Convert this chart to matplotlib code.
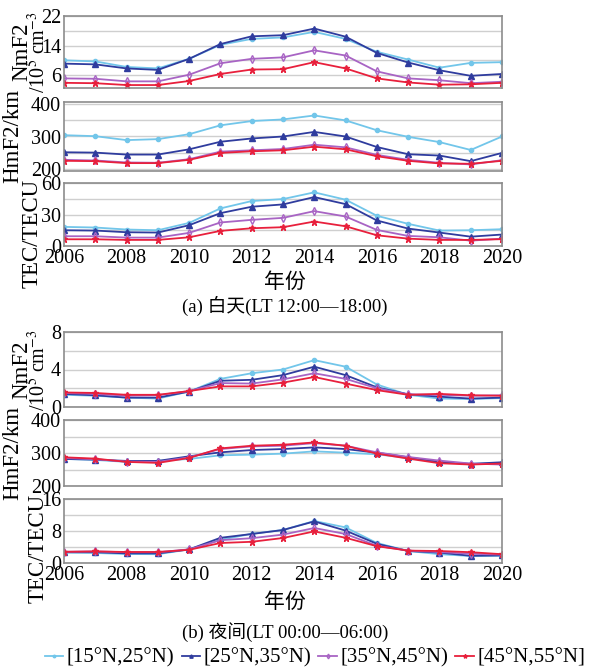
import matplotlib
matplotlib.use("Agg")
import matplotlib.pyplot as plt
import numpy as np

plt.rcParams["font.family"] = ["Liberation Serif", "Noto Sans CJK SC"]
plt.rcParams["mathtext.fontset"] = "stix"

years = list(range(2006, 2021))
bands = ["[15°N,25°N)", "[25°N,35°N)", "[35°N,45°N)", "[45°N,55°N]"]

# daytime (LT 12:00-18:00)
day_nmf2_15 = [10.0, 9.7, 8.2, 7.8, 10.4, 14.2, 15.8, 16.2, 17.7, 15.8, 12.3, 10.2, 8.0, 9.3, 9.5]
day_nmf2_25 = [9.1, 8.9, 7.8, 7.4, 10.4, 14.4, 16.5, 16.8, 18.6, 16.4, 12.0, 9.4, 7.3, 5.8, 6.3]
day_nmf2_35 = [5.1, 5.0, 4.3, 4.3, 6.1, 9.2, 10.4, 10.8, 12.7, 11.3, 7.0, 5.1, 4.6, 3.8, 4.2]
day_nmf2_45 = [3.9, 3.8, 3.3, 3.3, 4.4, 6.3, 7.5, 7.6, 9.5, 7.8, 5.1, 4.0, 3.4, 3.5, 3.9]

day_hmf2_15 = [304, 301, 289, 292, 307, 334, 347, 352, 364, 349, 319, 299, 283, 259, 300]
day_hmf2_25 = [252, 251, 245, 245, 261, 284, 294, 300, 314, 300, 268, 246, 242, 225, 250]
day_hmf2_35 = [229, 227, 221, 220, 231, 254, 258, 262, 275, 267, 244, 229, 220, 215, 228]
day_hmf2_45 = [226, 225, 219, 219, 229, 250, 255, 258, 269, 261, 240, 226, 218, 217, 226]

day_tec_15 = [18.2, 17.6, 15.7, 15.0, 22.0, 35.8, 42.8, 44.7, 51.1, 44.1, 28.8, 21.1, 14.7, 15.0, 16.0]
day_tec_25 = [15.0, 14.7, 13.1, 12.8, 19.8, 31.3, 37.4, 39.6, 46.6, 39.9, 24.3, 16.6, 12.8, 8.9, 10.9]
day_tec_35 = [9.3, 9.3, 8.0, 8.0, 12.5, 22.4, 24.9, 26.8, 33.2, 28.1, 15.3, 9.6, 8.3, 5.1, 7.0]
day_tec_45 = [6.4, 6.4, 5.8, 5.8, 8.3, 14.4, 16.9, 17.9, 23.3, 18.8, 10.2, 7.0, 5.8, 5.8, 6.5]

# nighttime (LT 00:00-06:00)
night_nmf2_15 = [1.3, 1.2, 1.0, 0.9, 1.65, 3.0, 3.6, 4.0, 5.0, 4.3, 2.4, 1.3, 0.9, 0.85, 0.95]
night_nmf2_25 = [1.4, 1.25, 1.0, 1.0, 1.65, 2.8, 2.9, 3.4, 4.3, 3.4, 2.1, 1.35, 1.1, 0.9, 1.0]
night_nmf2_35 = [1.5, 1.4, 1.2, 1.25, 1.7, 2.55, 2.5, 2.95, 3.6, 3.0, 2.0, 1.35, 1.3, 1.2, 1.25]
night_nmf2_45 = [1.55, 1.5, 1.3, 1.3, 1.7, 2.2, 2.2, 2.6, 3.2, 2.5, 1.8, 1.3, 1.4, 1.25, 1.2]

night_hmf2_15 = [282, 279, 273, 276, 282, 293, 295, 298, 305, 301, 296, 285, 272, 267, 270]
night_hmf2_25 = [282, 280, 276, 276, 290, 302, 309, 312, 317, 312, 301, 287, 273, 267, 272]
night_hmf2_35 = [285, 281, 274, 273, 287, 312, 320, 322, 330, 322, 302, 288, 277, 268, 265]
night_hmf2_45 = [287, 283, 273, 270, 285, 314, 322, 325, 332, 322, 298, 283, 269, 265, 268]

night_tec_15 = [2.6, 2.5, 2.25, 2.2, 3.4, 5.8, 7.3, 8.25, 10.5, 8.9, 5.0, 3.0, 2.2, 1.75, 1.8]
night_tec_25 = [2.7, 2.7, 2.4, 2.4, 3.4, 6.3, 7.25, 8.25, 10.4, 8.1, 4.8, 3.0, 2.6, 1.8, 1.9]
night_tec_35 = [2.8, 2.9, 2.7, 2.7, 3.4, 5.7, 6.2, 7.1, 8.75, 7.25, 4.3, 3.1, 2.75, 2.3, 2.1]
night_tec_45 = [2.8, 2.9, 2.75, 2.75, 3.3, 5.0, 5.3, 6.25, 7.9, 6.3, 4.2, 3.1, 3.0, 2.7, 2.2]

colors = ["#72c6ea", "#2f3c9e", "#a864c4", "#e8203c"]
markers = ["o", "^", "d", "*"]
msizes = [3.0, 4.0, 4.0, 5.0]
mfcs = [None, None, "none", None]

W, H = 597, 671
fig = plt.figure(figsize=(W / 100, H / 100), dpi=100)


def add_panel(top, bottom, left=64, right=502):
    return fig.add_axes([left / W, 1 - bottom / H, (right - left) / W, (bottom - top) / H])


panels = [
    (16, 88, [day_nmf2_15, day_nmf2_25, day_nmf2_35, day_nmf2_45], (2.5, 22), [6, 14, 22], [10, 18]),
    (102, 171, [day_hmf2_15, day_hmf2_25, day_hmf2_35, day_hmf2_45], (195, 405), [200, 300, 400], [250, 350]),
    (183, 246, [day_tec_15, day_tec_25, day_tec_35, day_tec_45], (0, 60), [0, 30, 60], [15, 45]),
    (332, 407, [night_nmf2_15, night_nmf2_25, night_nmf2_35, night_nmf2_45], (0, 8), [0, 4, 8], [2, 6]),
    (420, 486, [night_hmf2_15, night_hmf2_25, night_hmf2_35, night_hmf2_45], (200, 400), [200, 300, 400], [250, 350]),
    (499, 563, [night_tec_15, night_tec_25, night_tec_35, night_tec_45], (0, 16), [0, 8, 16], [4, 12]),
]

axes = []
for i, (top, bottom, series, ylim, major, minor) in enumerate(panels):
    ax = add_panel(top, bottom)
    for vals, c, m, ms, mfc, lab in zip(series, colors, markers, msizes, mfcs, bands):
        kw = dict(color=c, marker=m, markersize=ms, linewidth=1.3, label=lab)
        if mfc == "none":
            kw["markerfacecolor"] = "none"
            kw["markeredgewidth"] = 1.0
        ax.plot(years, vals, **kw)
    ax.set_xlim(2006, 2020)
    ax.set_ylim(*ylim)
    ax.set_yticks(major)
    ax.set_yticks(minor, minor=True)
    ax.set_xticks(range(2006, 2021, 2))
    ax.grid(axis="y", which="both", color="#cfcfcf", linewidth=1.0)
    ax.set_axisbelow(True)
    ax.tick_params(length=0, which="both", labelsize=14.5, pad=2)
    for s in ax.spines.values():
        s.set_color("#8c8c8c")
        s.set_linewidth(1.2)
    if i not in (2, 5):
        ax.tick_params(axis="x", labelbottom=False)
    axes.append(ax)

# y labels placed like in the figure
lab_kw = dict(rotation=90, ha="center", va="center", fontsize=16.5)
for nm_y, hm_y, tec_y, tec_x in [(52, 136, 233, 32), (370, 453, 548, 38)]:
    fig.text(22 / W, 1 - nm_y / H, "NmF2", **lab_kw)
    fig.text(39 / W, 1 - nm_y / H, r"/10$^5$ cm$^{-3}$", rotation=90, ha="center", va="center", fontsize=14.5)
    fig.text(13 / W, 1 - hm_y / H, "HmF2/km", **lab_kw)
    fig.text(tec_x / W, 1 - tec_y / H, "TEC/TECU", **lab_kw)

fig.text(285 / W, 1 - 283 / H, "年份", ha="center", va="center", fontsize=15)
fig.text(285 / W, 1 - 306 / H, "(a) 白天(LT 12:00—18:00)", ha="center", va="center", fontsize=13.5)
fig.text(285 / W, 1 - 603 / H, "年份", ha="center", va="center", fontsize=15)
fig.text(285 / W, 1 - 632 / H, "(b) 夜间(LT 00:00—06:00)", ha="center", va="center", fontsize=13.5)

handles, labels = axes[-1].get_legend_handles_labels()
fig.legend(handles, labels, loc="center", bbox_to_anchor=(315 / W, 1 - 658 / H), ncol=4,
           frameon=False, fontsize=15, handlelength=0.9, handletextpad=0.15,
           columnspacing=0.35, markerscale=0.6, borderaxespad=0)

fig.savefig("out.png", dpi=100)
